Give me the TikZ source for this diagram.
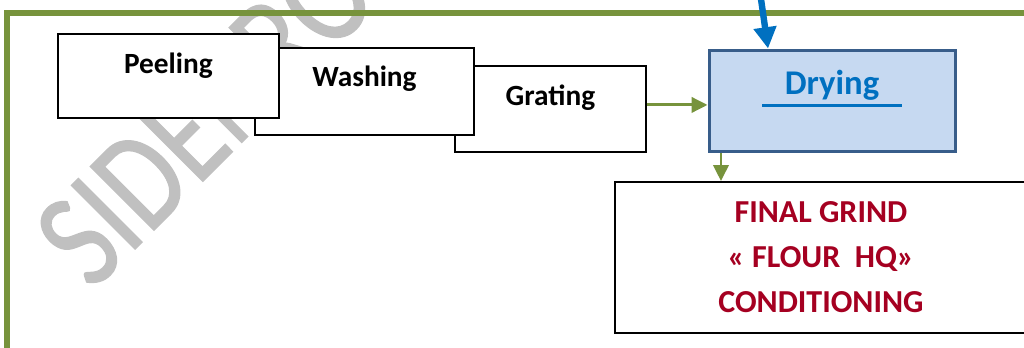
\documentclass[tikz,border=0pt]{standalone}
\usepackage{fontspec}
\setmainfont{Carlito}
\newfontfamily\wmfont{Carlito}[FakeBold=1]
\usetikzlibrary{arrows.meta}
\definecolor{flowgreen}{HTML}{77933C}
\definecolor{flowblue}{HTML}{0070C0}
\definecolor{dryfill}{HTML}{C6D9F1}
\definecolor{dryborder}{HTML}{385D8A}
\definecolor{finalred}{HTML}{A50021}
\definecolor{wmgrey}{HTML}{C0C0C0}
\tikzstyle{stepbox} = [rectangle, anchor=north west, inner sep=0pt, draw=black, line width=1.4pt,
fill=white, font=\bfseries\fontsize{22}{26}\selectfont]
\tikzstyle{drybox} = [rectangle, anchor=north west, inner sep=0pt, draw=dryborder, line width=2.3pt,
fill=dryfill, text=flowblue, font=\bfseries\fontsize{26}{30}\selectfont]
\tikzstyle{finalbox} = [rectangle, anchor=north west, inner sep=0pt, draw=black, line width=1.4pt,
fill=white, align=center, text=finalred, font=\bfseries\fontsize{24}{33.75}\selectfont]
\tikzstyle{watermark} = [anchor=base west, inner sep=0pt, text=wmgrey, font=\wmfont\fontsize{105}{105}\selectfont]
\tikzstyle{frameline} = [line width=3.8pt, draw=flowgreen]
\tikzstyle{arrow} = [line width=2.2pt, draw=flowgreen, -{Triangle[length=12pt, width=11.5pt]}]
\tikzstyle{feedarrow} = [line width=4.8pt, draw=flowblue, -{Triangle[length=16pt, width=16.5pt]}]

\begin{document}
\begin{tikzpicture}[x=0.75pt, y=-0.75pt]
\useasboundingbox (0,0) rectangle (1024,347);

% ------------------------- background -------------------------

\node(wm)[watermark, rotate=45, xscale=0.8, transform shape] at (92,292) {SIDENRO};
\draw[frameline] (7,13) rectangle (1100,420);

% ------------------------- nodes -------------------------

% ----- node: 2
\node(2)[stepbox, minimum width=143.25pt, text height=30pt, text depth=34.5pt] at (454,65) {Grating};
% ----- node: 1
\node(1)[stepbox, minimum width=164.25pt, text height=29.25pt, text depth=36pt] at (254,47) {Washing};
% ----- node: 0
\node(0)[stepbox, minimum width=165.75pt, text height=30pt, text depth=33pt] at (57,33) {Peeling};
% ----- node: 3
\node(3)[drybox, minimum width=184.5pt, text height=33.4pt, text depth=42.4pt] at (707.5,48.5)
{\rlap{\rule[-9.4pt]{105pt}{2.25pt}}\makebox[105pt]{Drying}};
% ----- node: 4
\node(4)[finalbox, minimum width=309pt, minimum height=113.25pt] at (614,181)
{FINAL GRIND\\« FLOUR~~HQ»\\CONDITIONING};

% ------------------------- arrows -------------------------

\coordinate(feed) at (760,-8);
\draw[feedarrow] (feed) -- ([xshift=45.4pt]3.north west);
\draw[arrow] ([yshift=3pt]2.east) -- ([yshift=3pt]2.east -| 3.west);
\draw[arrow] ([xshift=10.1pt]3.south west) -- ([xshift=10.1pt]3.south west |- 4.north);

\end{tikzpicture}
\end{document}
